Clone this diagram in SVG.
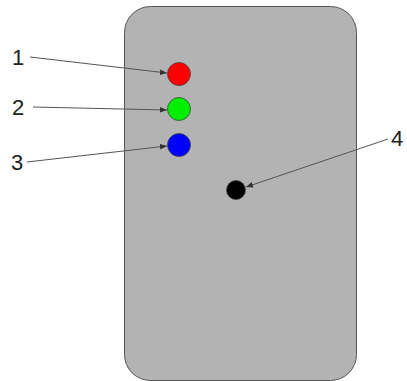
<svg xmlns="http://www.w3.org/2000/svg" width="407" height="381" viewBox="0 0 407 381">
  <style>
    .lbl { font-family: "Liberation Sans", Arial, sans-serif; font-size: 22px; fill: #222; }
    .lead { stroke: #555; stroke-width: 1; fill: none; marker-end: url(#ah); }
    .led { stroke: #444; stroke-width: 0.8; }
  </style>
  <defs>
    <marker id="ah" viewBox="0 0 10 10" refX="10" refY="5" markerWidth="7" markerHeight="7" markerUnits="userSpaceOnUse" orient="auto">
      <path d="M0,1 L10,5 L0,9 Z" fill="#333"/>
    </marker>
  </defs>

  <!-- housing -->
  <g id="housing">
    <rect x="124.5" y="6.5" width="232" height="374" rx="26" ry="26" fill="#b3b3b3" stroke="#555" stroke-width="1"/>
  </g>

  <!-- indicator lights -->
  <g id="led-red"><circle class="led" cx="179" cy="74" r="11.5" fill="#ff0000"/></g>
  <g id="led-green"><circle class="led" cx="179" cy="109" r="11.5" fill="#00ee00"/></g>
  <g id="led-blue"><circle class="led" cx="179" cy="145" r="11.5" fill="#0000ff"/></g>
  <g id="sensor"><circle class="led" cx="236" cy="190" r="9.5" fill="#000"/></g>

  <!-- callout numbers -->
  <g id="label-1"><text class="lbl" x="12" y="65">1</text></g>
  <g id="label-2"><text class="lbl" x="12" y="115">2</text></g>
  <g id="label-3"><text class="lbl" x="11" y="170">3</text></g>
  <g id="label-4"><text class="lbl" x="391" y="146">4</text></g>

  <!-- leader lines -->
  <g id="connectors">
    <line class="lead" x1="30" y1="57" x2="167" y2="73"/>
    <line class="lead" x1="33" y1="107" x2="167" y2="110"/>
    <line class="lead" x1="27" y1="162" x2="167" y2="146"/>
    <line class="lead" x1="388" y1="139" x2="246" y2="187"/>
  </g>
</svg>
